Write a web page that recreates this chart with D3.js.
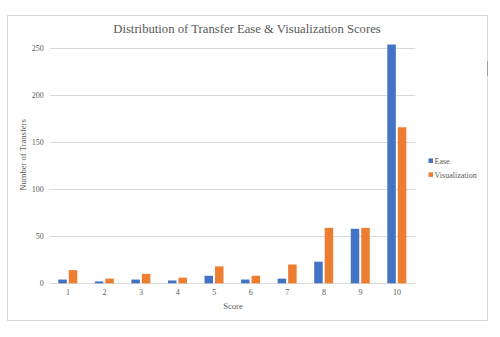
<!DOCTYPE html>
<html><head><meta charset="utf-8">
<script src="https://cdn.jsdelivr.net/npm/d3@7"></script>
<style>body{margin:0;background:#fff}svg{display:block}</style>
</head><body>
<script>
const categories = ["1","2","3","4","5","6","7","8","9","10"];
const easeValues = [4,2,4,3,8,4,5,23,58,254];
const visValues = [14,5,10,6,18,8,20,59,59,166];
const seriesNames = ["Ease","Visualization"];
const seriesColors = ["#4472c4","#ed7d31"];
const yTicks = [0,50,100,150,200,250];

const W=500,H=337;
const svg=d3.select("body").append("svg").attr("width",W).attr("height",H);
const font="'Liberation Serif','Times New Roman',serif";

svg.append("rect").attr("x",7.5).attr("y",15.5).attr("width",480).attr("height",305)
  .attr("fill","#fff").attr("stroke","#d9d9d9").attr("stroke-width",1);
svg.append("line").attr("x1",487.5).attr("x2",487.5).attr("y1",61).attr("y2",76)
  .attr("stroke","#8fa89a").attr("stroke-width",1);

const x=d3.scaleBand().domain(categories).range([49.7,415.3]);
const y=d3.scaleLinear().domain([0,250]).range([283.3,48.3]);

const g=svg.append("g");
g.selectAll(".grid").data(yTicks).join("line")
  .attr("x1",49.7).attr("x2",415.3)
  .attr("y1",d=>Math.round(y(d))+0.5).attr("y2",d=>Math.round(y(d))+0.5)
  .attr("stroke","#d9d9d9").attr("stroke-width",1);

const data=categories.map((c,i)=>({c,vals:[easeValues[i],visValues[i]]}));
const bw=8.5, gap=2;
data.forEach(d=>{
  d.vals.forEach((v,j)=>{
    const cx=x(d.c)+x.bandwidth()/2;
    const x0=cx-bw-gap/2+ j*(bw+gap) -0.2;
    g.append("rect").attr("x",x0).attr("width",bw)
      .attr("y",y(v)).attr("height",y(0)-y(v))
      .attr("fill",seriesColors[j]);
  });
});

const yAxis=d3.axisLeft(y).tickValues(yTicks).tickSize(0).tickPadding(6);
const ya=svg.append("g").attr("transform","translate(49.7,0)").call(yAxis);
ya.select(".domain").remove();
ya.selectAll("text").attr("font-family",font).attr("font-size",8).attr("fill","#595959");

const xAxis=d3.axisBottom(x).tickSize(0).tickPadding(6);
const xa=svg.append("g").attr("transform","translate(0,283.3)").call(xAxis);
xa.select(".domain").remove();
xa.selectAll("text").attr("font-family",font).attr("font-size",8).attr("fill","#595959");

svg.append("text").attr("x",247).attr("y",33).attr("text-anchor","middle")
  .attr("font-family",font).attr("font-size",12.7).attr("fill","#595959")
  .text("Distribution of Transfer Ease & Visualization Scores");
svg.append("text").attr("x",233).attr("y",308.5).attr("text-anchor","middle")
  .attr("font-family",font).attr("font-size",8.6).attr("fill","#595959").text("Score");
svg.append("text").attr("transform","translate(26,155) rotate(-90)").attr("text-anchor","middle")
  .attr("font-family",font).attr("font-size",8.6).attr("fill","#595959").text("Number of Transfers");

const lg=svg.append("g");
seriesNames.forEach((n,i)=>{
  const yy=160.7+i*14;
  lg.append("rect").attr("x",428.5).attr("y",yy-2.3).attr("width",4.5).attr("height",4.5).attr("fill",seriesColors[i]);
  lg.append("text").attr("x",434.5).attr("y",yy+2.8).attr("font-family",font).attr("font-size",8)
    .attr("fill","#595959").text(n);
});
</script>
</body></html>
